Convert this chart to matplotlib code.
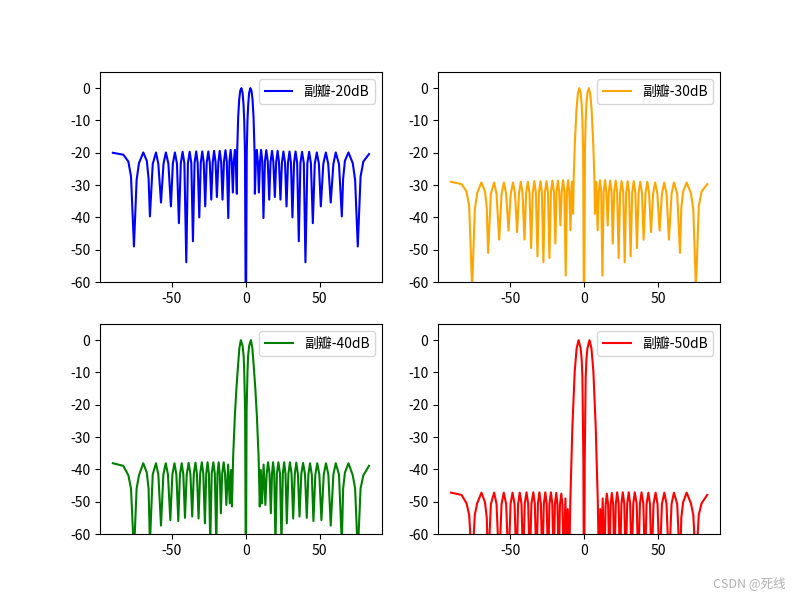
import matplotlib
matplotlib.use("Agg")
import matplotlib.pyplot as plt

plt.rcParams['font.family'] = ['Noto Sans CJK SC', 'DejaVu Sans']
plt.rcParams['axes.unicode_minus'] = False

# ---------------- data ----------------
x20 = [-90, -82.9, -79.5, -77.7, -75.7, -73.9, -72.3, -69.4, -67.0, -65.8, -64.9,
       -63.0, -60.8, -59.2, -57.4, -55.7, -54.1, -52.4, -50.7,
       -49.4, -48.0, -46.6, -45.3, -44.0, -42.8, -41.6, -40.3,
       -39.2, -38.0, -36.9, -35.8, -34.7, -33.6, -32.6, -31.5,
       -30.5, -29.5, -28.5, -27.5, -26.5, -25.4, -24.4, -23.4,
       -22.4, -21.5, -20.5, -19.6, -18.6, -17.7, -16.7, -15.8,
       -14.8, -13.8, -12.9, -11.9, -11.1, -10.3, -9.6, -8.8,
       -8.1, -7.4, -6.8, -6.1,
       -5.9, -5.2, -4.5, -3.8, -3.0, -2.2, -1.6, -1.1, -0.6, 0.0,
       0.6, 1.1, 1.6, 2.2, 3.0, 3.8, 4.5, 5.2, 5.9,
       6.1, 6.8, 7.4, 8.1, 8.8, 9.6, 10.3, 11.1, 11.9,
       12.9, 13.8, 14.8, 15.8, 16.7, 17.7, 18.6, 19.6,
       20.5, 21.5, 22.4, 23.4, 24.4, 25.4, 26.5, 27.5,
       28.5, 29.5, 30.5, 31.5, 32.6, 33.6, 34.7, 35.8,
       36.9, 38.0, 39.2, 40.3, 41.6, 42.8, 44.0, 45.3,
       46.6, 48.0, 49.4, 50.7, 52.4, 54.1, 55.7, 57.4,
       59.2, 60.8, 63.0, 64.9,
       65.8, 67.0, 69.4, 72.3, 73.9, 75.7, 77.6, 79.5, 83.3]
y20 = [-20.0, -20.6, -22.7, -27.3, -49.0, -28.4, -23.2, -19.9, -22.5, -28.0, -39.7,
       -23.5, -19.9, -23.5, -35.4, -23.4, -19.9, -23.4, -36.6,
       -23.4, -19.9, -23.4, -41.8, -23.2, -19.7, -23.2, -53.9,
       -23.2, -19.7, -23.2, -47.4, -23.1, -19.6, -23.1, -40.0,
       -23.1, -19.6, -23.1, -36.6, -23.1, -19.6, -23.1, -34.5,
       -22.9, -19.4, -22.9, -33.7, -22.9, -19.4, -22.9, -34.5,
       -22.7, -19.2, -22.7, -40.2, -22.6, -19.1, -22.6, -32.3,
       -22.6, -19.1, -22.6, -32.7,
       -20.0, -9.0, -3.5, -0.8, 0.0, -1.5, -5.0, -10.0, -20.0, -80.0,
       -20.0, -10.0, -5.0, -1.5, 0.0, -0.8, -3.5, -9.0, -20.0,
       -32.7, -22.6, -19.1, -22.6, -32.3, -22.6, -19.1, -22.6, -40.2,
       -22.7, -19.2, -22.7, -34.5, -22.9, -19.4, -22.9, -33.7,
       -22.9, -19.4, -22.9, -34.5, -23.1, -19.6, -23.1, -36.6,
       -23.1, -19.6, -23.1, -40.0, -23.1, -19.6, -23.1, -47.4,
       -23.2, -19.7, -23.2, -53.9, -23.2, -19.7, -23.2, -41.8,
       -23.4, -19.9, -23.4, -36.6, -23.4, -19.9, -23.4, -35.4,
       -23.5, -19.9, -23.5, -39.7,
       -28.0, -22.5, -19.9, -23.2, -28.4, -49.0, -27.3, -22.7, -20.4]

x30 = [-90, -82.9, -79.5, -77.7, -75.7, -73.9, -72.3, -69.4, -67.0, -65.8, -64.9,
       -63.0, -60.8, -59.2, -57.4, -55.8, -54.2, -52.7, -51.1,
       -49.6, -48.1, -46.7, -45.3, -44.0, -42.8, -41.6, -40.3,
       -39.2, -38.0, -36.9, -35.8, -34.7, -33.6, -32.6, -31.5,
       -30.5, -29.5, -28.5, -27.5, -26.5, -25.4, -24.4, -23.4,
       -22.4, -21.4, -20.4, -19.4, -18.6, -17.7, -16.8, -16.0,
       -15.1, -14.2, -13.3, -12.4, -11.6, -10.8, -10.0, -9.2,
       -8.3, -7.4,
       -7.0, -6.3, -5.1, -4.2, -3.2, -2.3, -1.6, -1.1, -0.6, 0.0,
       0.6, 1.1, 1.6, 2.3, 3.2, 4.2, 5.1, 6.3, 7.0,
       7.4, 8.3, 9.2, 10.0, 10.8, 11.6, 12.4, 13.3, 14.2, 15.1, 16.0,
       16.8, 17.7, 18.6, 19.4, 20.4, 21.4, 22.4, 23.4,
       24.4, 25.4, 26.5, 27.5, 28.5, 29.5, 30.5, 31.5,
       32.6, 33.6, 34.7, 35.8, 36.9, 38.0, 39.2, 40.3,
       41.6, 42.8, 44.0, 45.3, 46.7, 48.1, 49.6, 51.1,
       52.7, 54.2, 55.8, 57.4, 59.2, 60.8, 63.0, 64.9,
       65.8, 67.0, 69.4, 72.3, 73.9, 75.7, 77.6, 79.5, 83.3]
y30 = [-29.0, -29.7, -32.0, -36.6, -62.0, -37.6, -32.5, -29.2, -32.0, -37.0, -51.0,
       -32.7, -29.2, -32.7, -46.9, -32.7, -29.2, -32.7, -44.1,
       -32.7, -29.2, -32.7, -44.6, -32.5, -29.0, -32.5, -46.9,
       -32.5, -29.0, -32.5, -49.5, -32.3, -28.8, -32.3, -52.1,
       -32.3, -28.8, -32.3, -53.9, -32.3, -28.8, -32.3, -52.6,
       -32.1, -28.6, -32.1, -48.1, -32.1, -28.6, -32.1, -42.5,
       -32.0, -28.5, -32.0, -58.0, -32.0, -28.5, -32.0, -44.0,
       -29.0, -38.9,
       -28.0, -18.0, -6.5, -1.8, 0.0, -1.5, -5.0, -10.0, -20.0, -80.0,
       -20.0, -10.0, -5.0, -1.5, 0.0, -1.8, -6.5, -18.0, -28.0,
       -38.9, -29.0, -44.0, -32.0, -28.5, -32.0, -58.0, -32.0, -28.5, -32.0, -42.5,
       -32.1, -28.6, -32.1, -48.1, -32.1, -28.6, -32.1, -52.6,
       -32.3, -28.8, -32.3, -53.9, -32.3, -28.8, -32.3, -52.1,
       -32.3, -28.8, -32.3, -49.5, -32.5, -29.0, -32.5, -46.9,
       -32.5, -29.0, -32.5, -44.6, -32.7, -29.2, -32.7, -44.1,
       -32.7, -29.2, -32.7, -46.9, -32.7, -29.2, -32.7, -51.0,
       -37.0, -32.0, -29.2, -32.5, -37.6, -62.0, -36.6, -32.0, -29.7]

x40 = [-90, -82.9, -79.5, -77.7, -75.7, -73.9, -72.3, -69.4, -67.0, -65.8, -64.9,
       -63.0, -60.8, -59.2, -57.4, -55.8, -54.2, -52.7, -51.1,
       -49.7, -48.3, -47.0, -45.7, -44.6, -43.4, -42.3, -41.2,
       -40.0, -38.7, -37.5, -36.3, -35.2, -34.1, -33.1, -32.0,
       -30.9, -29.8, -28.8, -27.7, -26.8, -25.9, -25.0, -24.1,
       -23.1, -22.0, -21.0, -20.0, -19.2, -18.4, -17.7, -16.9,
       -16.0, -15.0, -14.1, -13.2, -12.0, -10.9, -10.1, -9.4,
       -8.6, -7.4, -6.4, -5.4, -4.4, -3.4, -2.2, -1.5, -1.1, -0.5, 0.0,
       0.5, 1.1, 1.5, 2.2, 3.4, 4.4, 5.4, 6.4, 7.4, 8.6,
       9.4, 10.1, 10.9, 12.0, 13.2, 14.1, 15.0, 16.0, 16.9,
       17.7, 18.4, 19.2, 20.0, 21.0, 22.0, 23.1, 24.1,
       25.0, 25.9, 26.8, 27.7, 28.8, 29.8, 30.9, 32.0,
       33.1, 34.1, 35.2, 36.3, 37.5, 38.7, 40.0, 41.2,
       42.3, 43.4, 44.6, 45.7, 47.0, 48.3, 49.7, 51.1,
       52.7, 54.2, 55.8, 57.4, 59.2, 60.8, 63.0, 64.9,
       65.8, 67.0, 69.4, 72.3, 73.9, 75.7, 77.6, 79.5, 83.3]
y40 = [-38.1, -38.9, -41.8, -45.9, -66.0, -45.9, -41.8, -38.1, -41.0, -46.0, -63.0,
       -41.6, -38.1, -41.6, -57.4, -41.6, -38.1, -41.6, -55.7,
       -41.6, -38.1, -41.6, -56.0, -41.6, -38.1, -41.6, -55.0,
       -41.5, -38.0, -41.5, -54.6, -41.4, -37.9, -41.4, -55.2,
       -41.3, -37.8, -41.3, -56.7, -41.3, -37.8, -41.3, -63.0,
       -41.3, -37.8, -41.3, -63.0, -41.3, -37.8, -41.3, -53.6,
       -41.3, -37.8, -41.3, -51.0, -38.5, -50.5, -40.2, -51.5,
       -36.0, -23.0, -15.0, -8.5, -2.5, 0.0, -1.8, -5.0, -10.0, -22.0, -80.0,
       -22.0, -10.0, -5.0, -1.8, 0.0, -2.5, -8.5, -15.0, -23.0, -36.0,
       -51.5, -40.2, -50.5, -38.5, -51.0, -41.3, -37.8, -41.3, -53.6,
       -41.3, -37.8, -41.3, -63.0, -41.3, -37.8, -41.3, -63.0,
       -41.3, -37.8, -41.3, -56.7, -41.3, -37.8, -41.3, -55.2,
       -41.4, -37.9, -41.4, -54.6, -41.5, -38.0, -41.5, -55.0,
       -41.6, -38.1, -41.6, -56.0, -41.6, -38.1, -41.6, -55.7,
       -41.6, -38.1, -41.6, -57.4, -41.6, -38.1, -41.6, -63.0,
       -46.0, -41.0, -38.1, -41.8, -45.9, -66.0, -45.9, -41.8, -38.9]

x50 = [-90, -82.9, -79.5, -77.7, -75.7, -73.9, -72.3, -69.4, -67.0, -65.8, -64.9,
       -63.0, -60.8, -59.2, -57.4, -55.8, -54.3, -52.7, -51.1,
       -49.7, -48.4, -47.0, -45.7, -44.6, -43.5, -42.3, -41.2,
       -40.1, -38.9, -37.8, -36.7, -35.6, -34.3, -33.3, -32.2,
       -31.2, -30.2, -29.2, -28.2, -27.2, -26.2, -25.3, -24.3,
       -23.4, -22.4, -21.5, -20.5, -19.7, -18.8, -18.0, -17.1,
       -16.3, -15.4, -14.6, -13.7, -12.6, -11.7, -11.0, -10.1,
       -9.3, -7.9, -6.3, -5.0, -3.7, -2.3, -1.6, -1.1, -0.45, 0.0,
       0.45, 1.1, 1.6, 2.3, 3.7, 5.0, 6.3, 7.9, 9.3,
       10.1, 11.0, 11.7, 12.6, 13.7, 14.6, 15.4, 16.3, 17.1,
       18.0, 18.8, 19.7, 20.5, 21.5, 22.4, 23.4, 24.3,
       25.3, 26.2, 27.2, 28.2, 29.2, 30.2, 31.2, 32.2,
       33.3, 34.3, 35.6, 36.7, 37.8, 38.9, 40.1, 41.2,
       42.3, 43.5, 44.6, 45.7, 47.0, 48.4, 49.7, 51.1,
       52.7, 54.3, 55.8, 57.4, 59.2, 60.8, 63.0, 64.9,
       65.8, 67.0, 69.4, 72.3, 73.9, 75.7, 77.6, 79.5, 83.3]
y50 = [-47.2, -47.9, -50.5, -54.1, -70.0, -54.1, -50.5, -47.2, -50.2, -55.0, -70.0,
       -50.7, -47.2, -50.7, -70.0, -50.7, -47.2, -50.7, -70.0,
       -50.7, -47.2, -50.7, -70.0, -50.7, -47.2, -50.7, -70.0,
       -50.6, -47.1, -50.6, -70.0, -50.6, -47.1, -50.6, -70.0,
       -50.6, -47.1, -50.6, -70.0, -50.6, -47.1, -50.6, -70.0,
       -50.6, -47.1, -50.6, -70.0, -50.8, -47.3, -50.8, -70.0,
       -51.0, -47.5, -51.0, -70.0, -49.0, -70.0, -52.3, -70.0,
       -50.0, -27.0, -9.6, -2.5, 0.0, -2.5, -6.0, -11.7, -37.5, -90.0,
       -37.5, -11.7, -6.0, -2.5, 0.0, -2.5, -9.6, -27.0, -50.0,
       -70.0, -52.3, -70.0, -49.0, -70.0, -51.0, -47.5, -51.0, -70.0,
       -50.8, -47.3, -50.8, -70.0, -50.6, -47.1, -50.6, -70.0,
       -50.6, -47.1, -50.6, -70.0, -50.6, -47.1, -50.6, -70.0,
       -50.6, -47.1, -50.6, -70.0, -50.6, -47.1, -50.6, -70.0,
       -50.7, -47.2, -50.7, -70.0, -50.7, -47.2, -50.7, -70.0,
       -50.7, -47.2, -50.7, -70.0, -50.7, -47.2, -50.7, -70.0,
       -55.0, -50.2, -47.2, -50.5, -54.1, -70.0, -54.1, -50.5, -47.9]

labels = ['副瓣-20dB', '副瓣-30dB', '副瓣-40dB', '副瓣-50dB']
colors = ['blue', 'orange', 'green', 'red']
series = [(x20, y20), (x30, y30), (x40, y40), (x50, y50)]

fig, axes = plt.subplots(2, 2, figsize=(8, 6), dpi=100)
for ax, (xs, ys), lab, col in zip(axes.flat, series, labels, colors):
    ax.plot(xs, ys, color=col, label=lab)
    ax.set_ylim(-60, 5)
    ax.legend(loc='upper right')

fig.text(0.982, 0.016, 'CSDN @死线', ha='right', va='bottom', fontsize=9, color='#b0b0b0')
fig.savefig('out.png')
